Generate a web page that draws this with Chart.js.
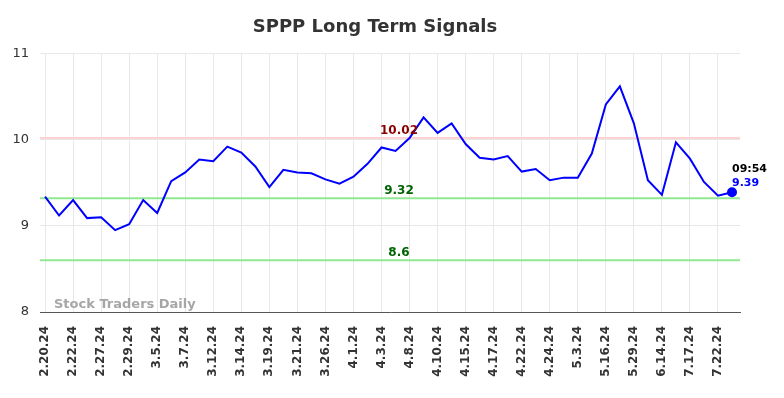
<!DOCTYPE html>
<html>
<head>
<meta charset="utf-8">
<script src="https://cdn.jsdelivr.net/npm/chart.js@4.4.1/dist/chart.umd.min.js"></script>
<style>
  html, body { margin: 0; padding: 0; background: #fff; }
  #wrap { width: 784px; height: 398px; }
</style>
</head>
<body>
<div id="wrap"><canvas id="signalChart" width="784" height="398"></canvas></div>
<script>
// Tick labels (one every second data point)
const dateLabels = [
  '2.20.24', '2.22.24', '2.27.24', '2.29.24', '3.5.24', '3.7.24', '3.12.24',
  '3.14.24', '3.19.24', '3.21.24', '3.26.24', '4.1.24', '4.3.24', '4.8.24',
  '4.10.24', '4.15.24', '4.17.24', '4.22.24', '4.24.24', '5.3.24', '5.16.24',
  '5.29.24', '6.14.24', '7.17.24', '7.22.24'
];

// Closing prices
const prices = [
  9.34, 9.12, 9.30, 9.09, 9.10, 8.95, 9.02, 9.30, 9.15, 9.52,
  9.62, 9.77, 9.75, 9.92, 9.85, 9.69, 9.45, 9.65, 9.62, 9.61,
  9.54, 9.49, 9.57, 9.72, 9.91, 9.87, 10.02, 10.26, 10.08, 10.19,
  9.95, 9.79, 9.77, 9.81, 9.63, 9.66, 9.53, 9.56, 9.56, 9.84,
  10.41, 10.62, 10.19, 9.53, 9.36, 9.97, 9.78, 9.51, 9.35, 9.39
];

// Signal levels
const levelValues = [10.02, 9.32, 8.6];
const levelLabels = ['10.02', '9.32', '8.6'];
const levelLineColors = ['#ffd2d2', '#90e890', '#90e890'];
const levelTextColors = ['#8b0000', '#006400', '#006400'];

const lastTime = '09:54';
const yTicks = [8, 9, 10, 11];

const fontFamily = '"DejaVu Sans", sans-serif';

// Draw horizontal signal lines, their labels, watermark and last-value note
const signalPlugin = {
  id: 'signals',
  beforeDatasetsDraw(chart) {
    const { ctx, chartArea, scales } = chart;
    ctx.save();
    levelValues.forEach((v, i) => {
      const y = scales.y.getPixelForValue(v);
      ctx.strokeStyle = levelLineColors[i];
      ctx.lineWidth = 2;
      ctx.beginPath();
      ctx.moveTo(chartArea.left, y);
      ctx.lineTo(chartArea.right, y);
      ctx.stroke();
    });
    // watermark
    ctx.fillStyle = '#a6a6a6';
    ctx.font = 'bold 13px ' + fontFamily;
    ctx.textAlign = 'left';
    ctx.textBaseline = 'alphabetic';
    ctx.fillText('Stock Traders Daily', chartArea.left + 14, chartArea.bottom - 4);
    ctx.restore();
  },
  afterDatasetsDraw(chart) {
    const { ctx, chartArea, scales } = chart;
    ctx.save();
    ctx.font = 'bold 12px ' + fontFamily;
    ctx.textAlign = 'center';
    ctx.textBaseline = 'alphabetic';
    const midX = (chartArea.left + chartArea.right) / 2 + 9;
    levelValues.forEach((v, i) => {
      const y = scales.y.getPixelForValue(v);
      ctx.fillStyle = levelTextColors[i];
      ctx.fillText(levelLabels[i], midX, y - 4);
    });
    // last value note
    const last = prices.length - 1;
    const lx = scales.x.getPixelForValue(last);
    const ly = scales.y.getPixelForValue(prices[last]);
    ctx.font = 'bold 11px ' + fontFamily;
    ctx.textAlign = 'left';
    ctx.fillStyle = '#000';
    ctx.fillText(lastTime, lx, ly - 20);
    ctx.fillStyle = '#0000ff';
    ctx.fillText(prices[last].toFixed(2), lx, ly - 6);
    ctx.restore();
  }
};

const ctx = document.getElementById('signalChart').getContext('2d');
new Chart(ctx, {
  type: 'line',
  data: {
    datasets: [{
      data: prices.map((p, i) => ({ x: i, y: p })),
      borderColor: '#0000ff',
      backgroundColor: '#0000ff',
      borderWidth: 2,
      tension: 0,
      pointRadius: c => (c.dataIndex === prices.length - 1 ? 4 : 0),
      pointHoverRadius: 0
    }]
  },
  options: {
    responsive: false,
    animation: false,
    layout: { padding: { left: 10, right: 44, top: 0, bottom: 0 } },
    plugins: {
      legend: { display: false },
      tooltip: { enabled: false },
      title: {
        display: true,
        text: 'SPPP Long Term Signals',
        color: '#333',
        font: { family: fontFamily, size: 18, weight: 'bold' },
        padding: { top: 17, bottom: 15 }
      }
    },
    scales: {
      x: {
        type: 'linear',
        min: -0.36,
        max: 49.57,
        afterBuildTicks: scale => {
          scale.ticks = dateLabels.map((l, i) => ({ value: i * 2 }));
        },
        afterFit: scale => { scale.height = 86; },
        ticks: {
          autoSkip: false,
          minRotation: 90,
          maxRotation: 90,
          padding: 14,
          color: '#333',
          font: { family: fontFamily, size: 12, weight: 'bold' },
          callback: v => dateLabels[v / 2]
        },
        grid: { color: '#e8e8e8', drawTicks: false },
        border: { display: true, color: '#555', width: 1 }
      },
      y: {
        min: 8,
        max: 11,
        afterBuildTicks: scale => {
          scale.ticks = yTicks.map(v => ({ value: v }));
        },
        afterFit: scale => { scale.width = 30; },
        ticks: {
          padding: 11,
          color: '#333',
          font: { family: fontFamily, size: 13 }
        },
        grid: { color: '#e8e8e8', drawTicks: false },
        border: { display: false }
      }
    }
  },
  plugins: [signalPlugin]
});
</script>
</body>
</html>
